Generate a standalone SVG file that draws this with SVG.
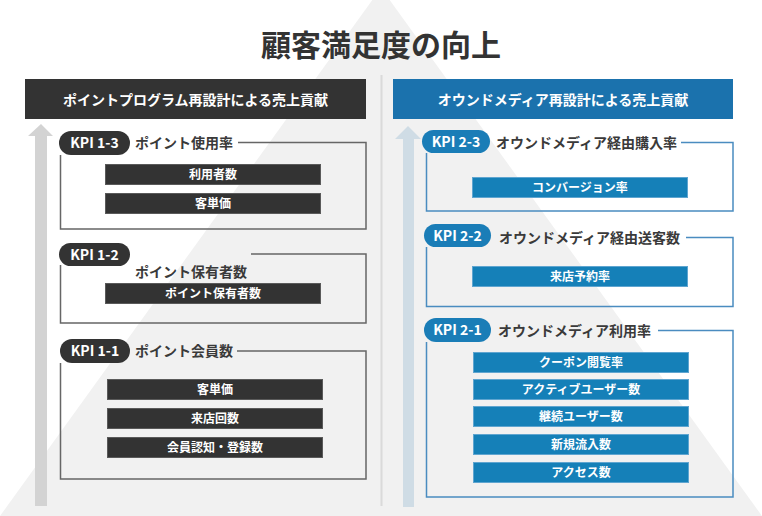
<svg xmlns="http://www.w3.org/2000/svg" width="762" height="516" viewBox="0 0 762 516">
<defs>
<style>
text{font-family:"Noto Sans CJK JP","Noto Sans",sans-serif;}
.title{font-size:30px;font-weight:700;fill:#333;text-anchor:middle;}
.hdr{font-size:14px;font-weight:700;fill:#fff;text-anchor:middle;}
.badge{font-size:14px;font-weight:700;fill:#fff;text-anchor:middle;}
.lbl{font-size:14px;font-weight:700;fill:#3a3a3a;}
.bar{font-size:12px;font-weight:700;fill:#fff;text-anchor:middle;}
.dk{fill:#333;}
.bl{fill:#1a7db7;}
.dkbar{fill:#333;stroke:#5a5a5a;stroke-width:1;}
.blbar{fill:#1580b8;stroke:#5fa5d0;stroke-width:1;}
.dkbox{fill:none;stroke:#666;stroke-width:1.5;}
.blbox{fill:none;stroke:#4a8cc0;stroke-width:1.5;}
</style>
</defs>
<rect width="762" height="516" fill="#fff"/>
<polygon points="381,-12 0,516 762,516" fill="#f1f1f1"/>
<line x1="381.5" y1="75" x2="381.5" y2="506" stroke="#dadada" stroke-width="2"/>
<text class="title" x="381" y="56">顧客満足度の向上</text>

<g id="connectors">
<polygon points="41,124 53,136 47,136 47,506 35,506 35,136 28,136" fill="#d3d3d3"/>
<polygon points="408,126 421,139 414,139 414,507 403,507 403,139 395,139" fill="#cfdce5"/>
</g>

<g id="header-left">
<rect x="25" y="79" width="341" height="40" fill="#333"/>
<text class="hdr" x="195.5" y="105">ポイントプログラム再設計による売上貢献</text>
</g>
<g id="header-right">
<rect x="393" y="79" width="340" height="40" fill="#1b72ad"/>
<text class="hdr" x="563" y="105">オウンドメディア再設計による売上貢献</text>
</g>

<g id="kpi-1-3">
<polyline class="dkbox" points="238,142.5 366,142.5 366,229 60.5,229 60.5,155"/>
<rect class="dk" x="59" y="131" width="71" height="24" rx="12"/>
<text class="badge" x="94.5" y="148">KPI 1-3</text>
<text class="lbl" x="135" y="148">ポイント使用率</text>
<rect class="dkbar" x="105.5" y="164.5" width="215" height="20"/>
<text class="bar" x="213" y="179">利用者数</text>
<rect class="dkbar" x="105.5" y="193.5" width="215" height="20"/>
<text class="bar" x="213" y="208">客単価</text>
</g>

<g id="kpi-1-2">
<polyline class="dkbox" points="251,254 366,254 366,323 60.5,323 60.5,265"/>
<rect class="dk" x="59" y="243" width="71" height="23" rx="11.5"/>
<text class="badge" x="94.5" y="259.5">KPI 1-2</text>
<text class="lbl" x="135" y="277">ポイント保有者数</text>
<rect class="dkbar" x="105.5" y="283.5" width="215" height="20"/>
<text class="bar" x="213" y="298">ポイント保有者数</text>
</g>

<g id="kpi-1-1">
<polyline class="dkbox" points="237,351 366,351 366,479 60.5,479 60.5,363"/>
<rect class="dk" x="60" y="339" width="70" height="24" rx="12"/>
<text class="badge" x="95" y="356">KPI 1-1</text>
<text class="lbl" x="135" y="356">ポイント会員数</text>
<rect class="dkbar" x="107.5" y="379.5" width="215" height="20"/>
<text class="bar" x="215" y="394">客単価</text>
<rect class="dkbar" x="107.5" y="408.5" width="215" height="20"/>
<text class="bar" x="215" y="423">来店回数</text>
<rect class="dkbar" x="107.5" y="437.5" width="215" height="20"/>
<text class="bar" x="215" y="452">会員認知・登録数</text>
</g>

<g id="kpi-2-3">
<polyline class="blbox" points="681,142.5 733,142.5 733,211 426.5,211 426.5,153"/>
<rect class="bl" x="422" y="130" width="68" height="23" rx="11.5"/>
<text class="badge" x="456" y="147">KPI 2-3</text>
<text class="lbl" x="496" y="148">オウンドメディア経由購入率</text>
<rect class="blbar" x="472.5" y="177.5" width="215" height="20"/>
<text class="bar" x="580" y="192">コンバージョン率</text>
</g>

<g id="kpi-2-2">
<polyline class="blbox" points="686,237.5 733,237.5 733,306.5 426.5,306.5 426.5,247"/>
<rect class="bl" x="424" y="224" width="67" height="23" rx="11.5"/>
<text class="badge" x="457.5" y="241">KPI 2-2</text>
<text class="lbl" x="499" y="243">オウンドメディア経由送客数</text>
<rect class="blbar" x="472.5" y="266.5" width="215" height="20"/>
<text class="bar" x="580" y="281">来店予約率</text>
</g>

<g id="kpi-2-1">
<polyline class="blbox" points="658,330.5 733,330.5 733,497 426.5,497 426.5,342"/>
<rect class="bl" x="424" y="318" width="67" height="24" rx="12"/>
<text class="badge" x="457.5" y="335">KPI 2-1</text>
<text class="lbl" x="498" y="336">オウンドメディア利用率</text>
<rect class="blbar" x="473.5" y="352.5" width="215" height="20"/>
<text class="bar" x="581" y="367">クーポン閲覧率</text>
<rect class="blbar" x="473.5" y="379.5" width="215" height="20"/>
<text class="bar" x="581" y="394">アクティブユーザー数</text>
<rect class="blbar" x="473.5" y="406.5" width="215" height="20"/>
<text class="bar" x="581" y="421">継続ユーザー数</text>
<rect class="blbar" x="473.5" y="434.5" width="215" height="20"/>
<text class="bar" x="581" y="449">新規流入数</text>
<rect class="blbar" x="473.5" y="462.5" width="215" height="20"/>
<text class="bar" x="581" y="477">アクセス数</text>
</g>
</svg>
